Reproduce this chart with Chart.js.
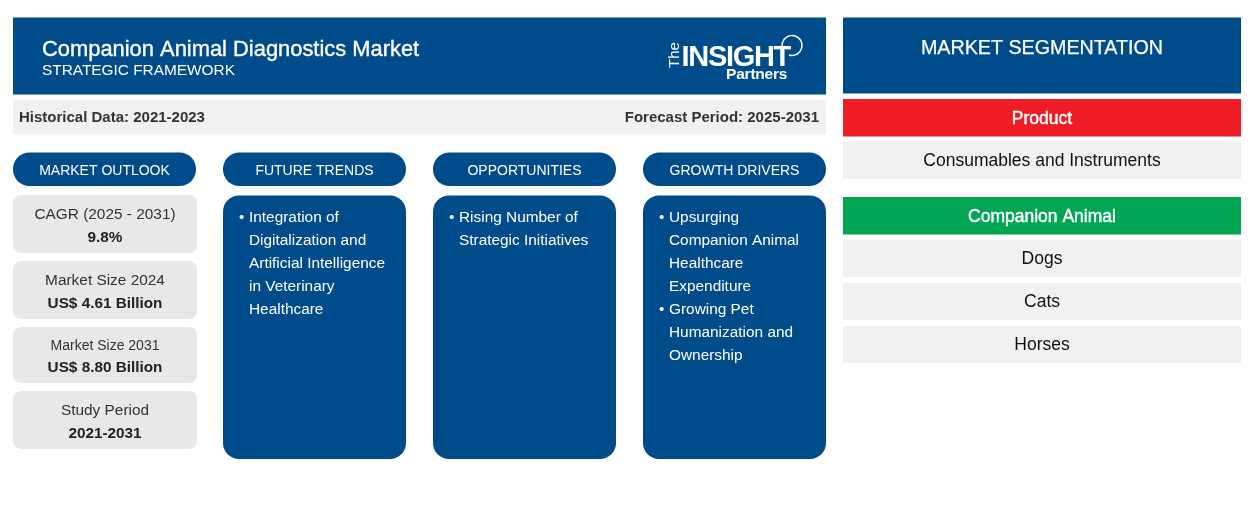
<!DOCTYPE html>
<html lang="en"><head><meta charset="utf-8"><title>Companion Animal Diagnostics Market</title>
<style>html,body{margin:0;padding:0;background:#fff}canvas{display:block}</style>
<script src="https://cdn.jsdelivr.net/npm/chart.js@4/dist/chart.umd.min.js"></script>
</head><body><canvas id="c" width="1254" height="530"></canvas>
<script>
// ---- content ----
const titleText = "Companion Animal Diagnostics Market";
const subtitleText = "STRATEGIC FRAMEWORK";
const historicalText = "Historical Data: 2021-2023";
const forecastText = "Forecast Period: 2025-2031";
const columnHeads = ["MARKET OUTLOOK","FUTURE TRENDS","OPPORTUNITIES","GROWTH DRIVERS"];
const outlookLabels = ["CAGR (2025 - 2031)","Market Size 2024","Market Size 2031","Study Period"];
const outlookValues = ["9.8%","US$ 4.61 Billion","US$ 8.80 Billion","2021-2031"];
const futureTrends = [["Integration of","Digitalization and","Artificial Intelligence","in Veterinary","Healthcare"]];
const opportunities = [["Rising Number of","Strategic Initiatives"]];
const growthDrivers = [["Upsurging","Companion Animal","Healthcare","Expenditure"],["Growing Pet","Humanization and","Ownership"]];
const segmentationHead = "MARKET SEGMENTATION";
const productHead = "Product";
const productItems = ["Consumables and Instruments"];
const animalHead = "Companion Animal";
const animalItems = ["Dogs","Cats","Horses"];

// ---- styling / layout ----
const BLUE="#004b8a", RED="#ee1c25", GREEN="#00a651", LIGHT="#f1f1f1", TILE="#e8e8e8";
const FF='"Liberation Sans", Arial, sans-serif';
const colX=[13,223,433,643], colW=183;
const tileBoxes=[[195,58],[261,58],[327,56],[391,58]];
const tileLabelY=[219,285,350,415], tileValueY=[242,308,372,438];
const tileLabelSize=[15.4,15.4,14,15.4];
const animalY=[240,283,326];

const framework={id:"framework",beforeDraw(chart){
  const {ctx,scales:{x,y}}=chart;
  const box=(l,t,w,h,col,r=0)=>{const X=x.getPixelForValue(l),Y=y.getPixelForValue(t);
    ctx.fillStyle=col;ctx.beginPath();ctx.roundRect(X,Y,x.getPixelForValue(l+w)-X,y.getPixelForValue(t+h)-Y,r);ctx.fill();};
  const txt=(s,px,py,font,col,align="left",ls="0px",weight=0)=>{ctx.font=font;ctx.fillStyle=col;ctx.textAlign=align;ctx.letterSpacing=ls;ctx.textBaseline="alphabetic";
    const X=x.getPixelForValue(px),Y=y.getPixelForValue(py);
    ctx.fillText(s,X,Y);
    if(weight){ctx.strokeStyle=col;ctx.lineWidth=weight;ctx.strokeText(s,X,Y);}
    ctx.letterSpacing="0px";};
  // header
  box(13,17.5,813,77,BLUE);
  txt(titleText,42,56,`21.9px ${FF}`,"#fff","left","0px",0.35);
  txt(subtitleText,42,75,`15.4px ${FF}`,"#fff");
  // logo
  txt("INSIGHT",681.5,66,`bold 29px ${FF}`,"#fff","left","-1.3px");
  txt("Partners",726,79,`bold 15.5px ${FF}`,"#fff","left","-0.2px");
  ctx.save();ctx.translate(x.getPixelForValue(679),y.getPixelForValue(68));ctx.rotate(-Math.PI/2);
  ctx.font=`15px ${FF}`;ctx.fillStyle="#fff";ctx.textAlign="left";ctx.fillText("The",0,0);ctx.restore();
  ctx.strokeStyle="#fff";ctx.lineWidth=1.5;ctx.beginPath();
  ctx.arc(x.getPixelForValue(792),y.getPixelForValue(45.5),10,Math.PI*0.95,Math.PI*0.6,false);ctx.stroke();
  // period band
  box(13,100,813,34.5,LIGHT);
  txt(historicalText,19,122,`bold 15px ${FF}`,"#333");
  txt(forecastText,819,122,`bold 15px ${FF}`,"#333","right");
  // columns
  columnHeads.forEach((h,i)=>{box(colX[i],152.5,colW,33.5,BLUE,16.5);
    txt(h,colX[i]+colW/2,175,`14px ${FF}`,"#fff","center");});
  outlookLabels.forEach((l,i)=>{const [t,h]=tileBoxes[i];box(colX[0],t,184,h,TILE,8);
    txt(l,105,tileLabelY[i],`${tileLabelSize[i]}px ${FF}`,"#333","center");
    txt(outlookValues[i],105,tileValueY[i],`bold 15.3px ${FF}`,"#222","center");});
  [futureTrends,opportunities,growthDrivers].forEach((groups,k)=>{const cx=colX[k+1];
    box(cx,195.5,colW,263.5,BLUE,16);
    let line=0;groups.forEach(g=>g.forEach((s,j)=>{const by=221.5+23*line;
      if(j===0)txt("•",cx+16,by,`15px ${FF}`,"#fff");
      txt(s,cx+26,by,`15.4px ${FF}`,"#fff");line++;}));});
  // segmentation
  const rx=843,rw=398,rc=1042;
  box(rx,17.5,rw,76,BLUE);txt(segmentationHead,rc,53.5,`19.7px ${FF}`,"#fff","center","0px",0.25);
  box(rx,99,rw,37.5,RED);txt(productHead,rc,123.5,`17.5px ${FF}`,"#fff","center","0px",0.45);
  box(rx,142,rw,37,LIGHT);txt(productItems[0],rc,166,`17.5px ${FF}`,"#111","center");
  box(rx,197,rw,37.5,GREEN);txt(animalHead,rc,221.5,`17.5px ${FF}`,"#fff","center","0px",0.45);
  animalItems.forEach((s,i)=>{box(rx,animalY[i],rw,37,LIGHT);txt(s,rc,animalY[i]+24,`17.5px ${FF}`,"#111","center");});
}};

new Chart(document.getElementById("c"),{type:"scatter",data:{labels:[],datasets:[]},plugins:[framework],options:{
  responsive:false,devicePixelRatio:1,animation:false,layout:{padding:0},
  plugins:{legend:{display:false},tooltip:{enabled:false}},
  scales:{x:{type:"linear",min:0,max:1254,offset:false,display:false},y:{type:"linear",min:0,max:530,reverse:true,offset:false,display:false}}
}});
</script></body></html>
